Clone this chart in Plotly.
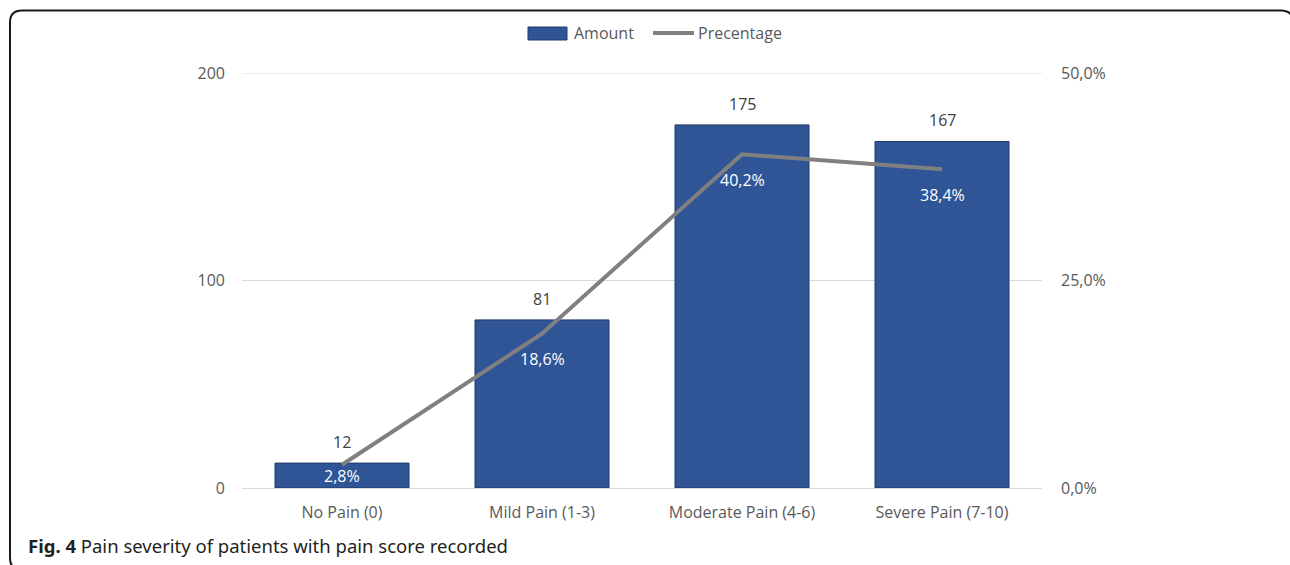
import plotly.graph_objects as go

categories = ["No Pain (0)", "Mild Pain (1-3)", "Moderate Pain (4-6)", "Severe Pain (7-10)"]
amounts = [12, 81, 175, 167]
percentages = [2.8, 18.6, 40.2, 38.4]
pct_labels = ["2,8%", "18,6%", "40,2%", "38,4%"]
left_ticks = [0, 100, 200]
right_ticks = [0, 25, 50]
right_tick_labels = ["0,0%", "25,0%", "50,0%"]

FONT = "Open Sans, Noto Sans, sans-serif"
GRAY = "#595959"
BAR = "#2F5597"
BAR_EDGE = "#1F3864"
LINE = "#808080"
GRID = "#D9D9D9"

fig = go.Figure()
fig.add_trace(go.Bar(
    x=categories, y=amounts, name="Amount",
    marker=dict(color=BAR, line=dict(color=BAR_EDGE, width=1)),
    width=0.67, showlegend=False,
))
fig.add_trace(go.Scatter(
    x=categories, y=percentages, name="Precentage", yaxis="y2",
    mode="lines", line=dict(color=LINE, width=4), showlegend=False,
))

# gridlines (drawn as shapes so the top one at the range edge is visible)
for t in left_ticks[1:]:
    fig.add_shape(type="line", xref="paper", yref="y", x0=0, x1=1, y0=t, y1=t,
                  line=dict(color=GRID, width=1), layer="below")

# amount labels above bars
for c, a in zip(categories, amounts):
    fig.add_annotation(x=c, y=a, text=str(a), showarrow=False, yanchor="bottom",
                       yshift=8, font=dict(family=FONT, size=16, color="#404040"))

# percentage labels below line points
label_offsets = [-11, -25, -26, -26]
for c, p, t, off in zip(categories, percentages, pct_labels, label_offsets):
    fig.add_annotation(x=c, y=p, yref="y2", text=t, showarrow=False, yanchor="middle",
                       yshift=off, font=dict(family=FONT, size=16, color="white"))

# custom legend
fig.add_shape(type="rect", xref="paper", yref="paper", x0=0.3575, x1=0.40625,
              y0=1.0795, y1=1.1108, fillcolor=BAR, line=dict(color=BAR_EDGE, width=1))
fig.add_annotation(xref="paper", yref="paper", x=0.4125, y=1.0964, xanchor="left",
                   yanchor="middle", text="Amount", showarrow=False,
                   font=dict(family=FONT, size=16, color=GRAY))
fig.add_shape(type="line", xref="paper", yref="paper", x0=0.51375, x1=0.565,
              y0=1.0964, y1=1.0964, line=dict(color=LINE, width=4))
fig.add_annotation(xref="paper", yref="paper", x=0.568, y=1.0964, xanchor="left",
                   yanchor="middle", text="Precentage", showarrow=False,
                   font=dict(family=FONT, size=16, color=GRAY))

# caption
fig.add_annotation(xref="paper", yref="paper", x=(26 - 242) / 800, y=-0.1397,
                   xanchor="left", yanchor="middle",
                   text="<b>Fig. 4</b> Pain severity of patients with pain score recorded",
                   showarrow=False, font=dict(family="Noto Sans, sans-serif", size=18.5, color="#231F20"))

# rounded border
x0, x1 = (10 - 242) / 800, (1293 - 242) / 800
y0, y1 = (488 - 570) / 415, (488 - 10.5) / 415
rx, ry = 12 / 800, 12 / 415
path = (f"M {x0+rx},{y1} L {x1-rx},{y1} Q {x1},{y1} {x1},{y1-ry} "
        f"L {x1},{y0+ry} Q {x1},{y0} {x1-rx},{y0} L {x0+rx},{y0} Q {x0},{y0} {x0},{y0+ry} "
        f"L {x0},{y1-ry} Q {x0},{y1} {x0+rx},{y1} Z")
fig.add_shape(type="path", path=path, xref="paper", yref="paper",
              line=dict(color="#1A1A1A", width=2))

fig.update_layout(
    width=1290, height=565,
    margin=dict(l=242, r=248, t=73, b=77),
    paper_bgcolor="white", plot_bgcolor="white",
    font=dict(family=FONT, size=16, color=GRAY),
    showlegend=False,
    bargap=0.33,
    xaxis=dict(showgrid=False, showline=True, linecolor=GRID, linewidth=1,
               ticks="", tickfont=dict(size=16, color=GRAY), ticklabelstandoff=10,
               range=[-0.5, 3.5]),
    yaxis=dict(range=[0, 200], tickvals=left_ticks, showgrid=False,
               zeroline=False, showline=False, ticks="",
               tickfont=dict(size=16, color=GRAY), ticklabelstandoff=16),
    yaxis2=dict(range=[0, 50], tickvals=right_ticks, ticktext=right_tick_labels,
                overlaying="y", side="right", showgrid=False, zeroline=False,
                showline=False, ticks="", tickfont=dict(size=16, color=GRAY),
                ticklabelstandoff=18),
)

fig.write_html("out.html")
